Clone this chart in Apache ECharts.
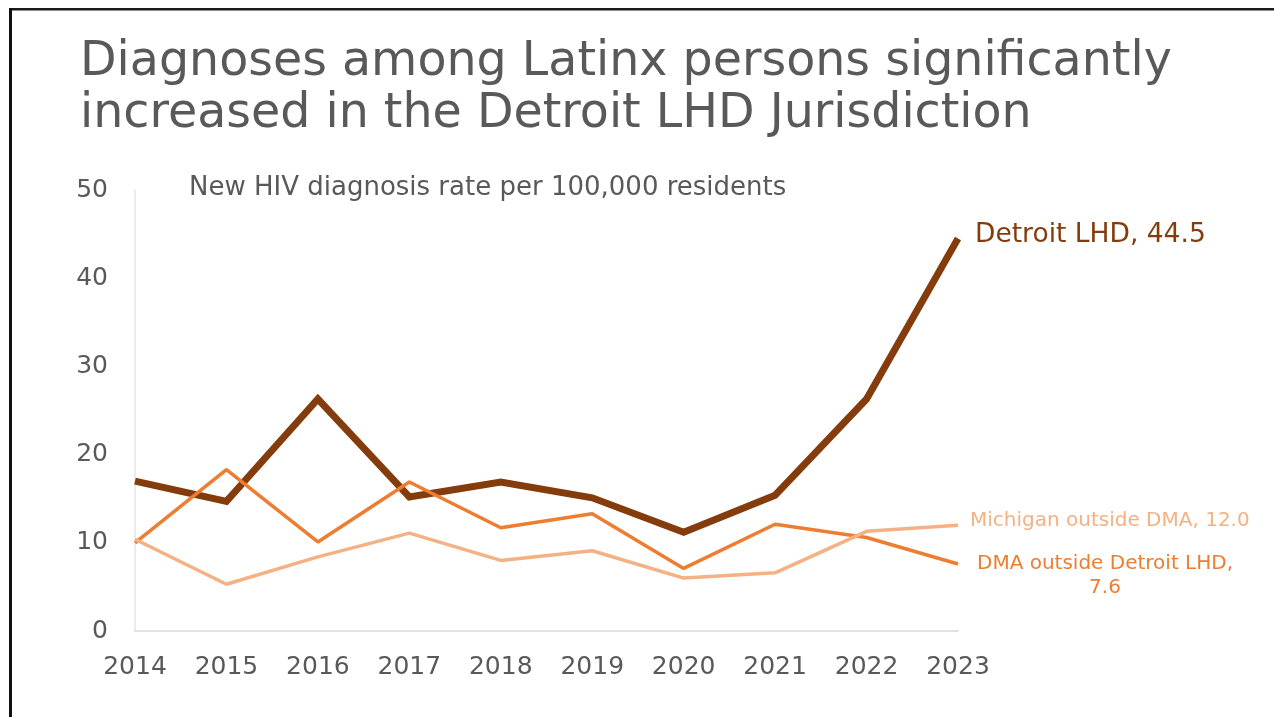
<!DOCTYPE html>
<html>
<head>
<meta charset="utf-8">
<script src="https://cdn.jsdelivr.net/npm/echarts@6/dist/echarts.min.js"></script>
<style>
  html, body { margin: 0; padding: 0; background: #ffffff; }
  #chart { width: 1274px; height: 717px; }
</style>
</head>
<body>
<div id="chart"></div>
<script>
// Years on the horizontal axis
const years = ['2014', '2015', '2016', '2017', '2018', '2019', '2020', '2021', '2022', '2023'];

// New HIV diagnosis rate per 100,000 Latinx residents
const detroitLHD = [17.0, 14.7, 26.3, 15.2, 16.9, 15.1, 11.2, 15.4, 26.3, 44.5];
const dmaOutsideDetroit = [10.0, 18.3, 10.1, 16.9, 11.7, 13.3, 7.1, 12.1, 10.6, 7.6];
const michiganOutsideDMA = [10.4, 5.3, 8.4, 11.1, 8.0, 9.1, 6.0, 6.6, 11.3, 12.0];

const seriesNames = ['Detroit LHD', 'DMA outside Detroit LHD', 'Michigan outside DMA'];

const FONT = 'DejaVu Sans';
const GREY = '#595959';

const chart = echarts.init(document.getElementById('chart'), null, { renderer: 'canvas' });

const fmt = (p) => p.seriesName + ', ' + Number(p.value).toFixed(1);

chart.setOption({
  backgroundColor: '#ffffff',
  animation: false,
  title: {
    text: 'Diagnoses among Latinx persons significantly\nincreased in the Detroit LHD Jurisdiction',
    left: 75,
    top: 32,
    textStyle: {
      fontFamily: FONT,
      fontSize: 47.5,
      fontWeight: 'normal',
      color: GREY,
      lineHeight: 52
    }
  },
  graphic: [
    // slide frame: top and left edges
    { type: 'rect', shape: { x: 9, y: 8, width: 1265, height: 2.5 }, style: { fill: '#1a1a1a' }, silent: true },
    { type: 'rect', shape: { x: 9, y: 8, width: 3, height: 709 }, style: { fill: '#111111' }, silent: true },
    {
      type: 'text',
      left: 189,
      top: 175,
      style: {
        text: 'New HIV diagnosis rate per 100,000 residents',
        fontFamily: FONT,
        fontSize: 26,
        fill: GREY
      }
    }
  ],
  grid: { left: 135, right: 316, top: 190, bottom: 86, containLabel: false },
  xAxis: {
    type: 'category',
    data: years,
    boundaryGap: false,
    axisLine: { lineStyle: { color: '#d9d9d9', width: 1.5 } },
    axisTick: { show: false },
    axisLabel: { color: GREY, fontFamily: FONT, fontSize: 25, margin: 24 },
    splitLine: { show: false }
  },
  yAxis: {
    type: 'value',
    min: 0,
    max: 50,
    interval: 10,
    axisLine: { show: true, lineStyle: { color: '#e6e6e6', width: 1.5 } },
    axisTick: { show: false },
    axisLabel: { color: GREY, fontFamily: FONT, fontSize: 25, margin: 27, padding: [5, 0, 0, 0] },
    splitLine: { show: false }
  },
  series: [
    {
      name: seriesNames[0],
      type: 'line',
      data: detroitLHD,
      symbol: 'none',
      lineStyle: { color: '#843C0C', width: 7, join: 'miter' },
      z: 2,
      endLabel: {
        show: true,
        formatter: fmt,
        color: '#843C0C',
        fontFamily: FONT,
        fontSize: 26.5,
        distance: 17,
        offset: [0, -3]
      }
    },
    {
      name: seriesNames[1],
      type: 'line',
      data: dmaOutsideDetroit,
      symbol: 'none',
      lineStyle: { color: '#ED7D31', width: 3.5 },
      z: 3,
      endLabel: {
        show: true,
        formatter: (p) => p.seriesName + ',\n' + Number(p.value).toFixed(1),
        color: '#ED7D31',
        fontFamily: FONT,
        fontSize: 20,
        lineHeight: 24,
        align: 'center',
        distance: 0,
        offset: [147, 12]
      }
    },
    {
      name: seriesNames[2],
      type: 'line',
      data: michiganOutsideDMA,
      symbol: 'none',
      lineStyle: { color: '#F4B183', width: 3.5 },
      z: 4,
      endLabel: {
        show: true,
        formatter: fmt,
        color: '#F4B183',
        fontFamily: FONT,
        fontSize: 20,
        distance: 12,
        offset: [0, -4]
      }
    }
  ]
});
</script>
</body>
</html>
